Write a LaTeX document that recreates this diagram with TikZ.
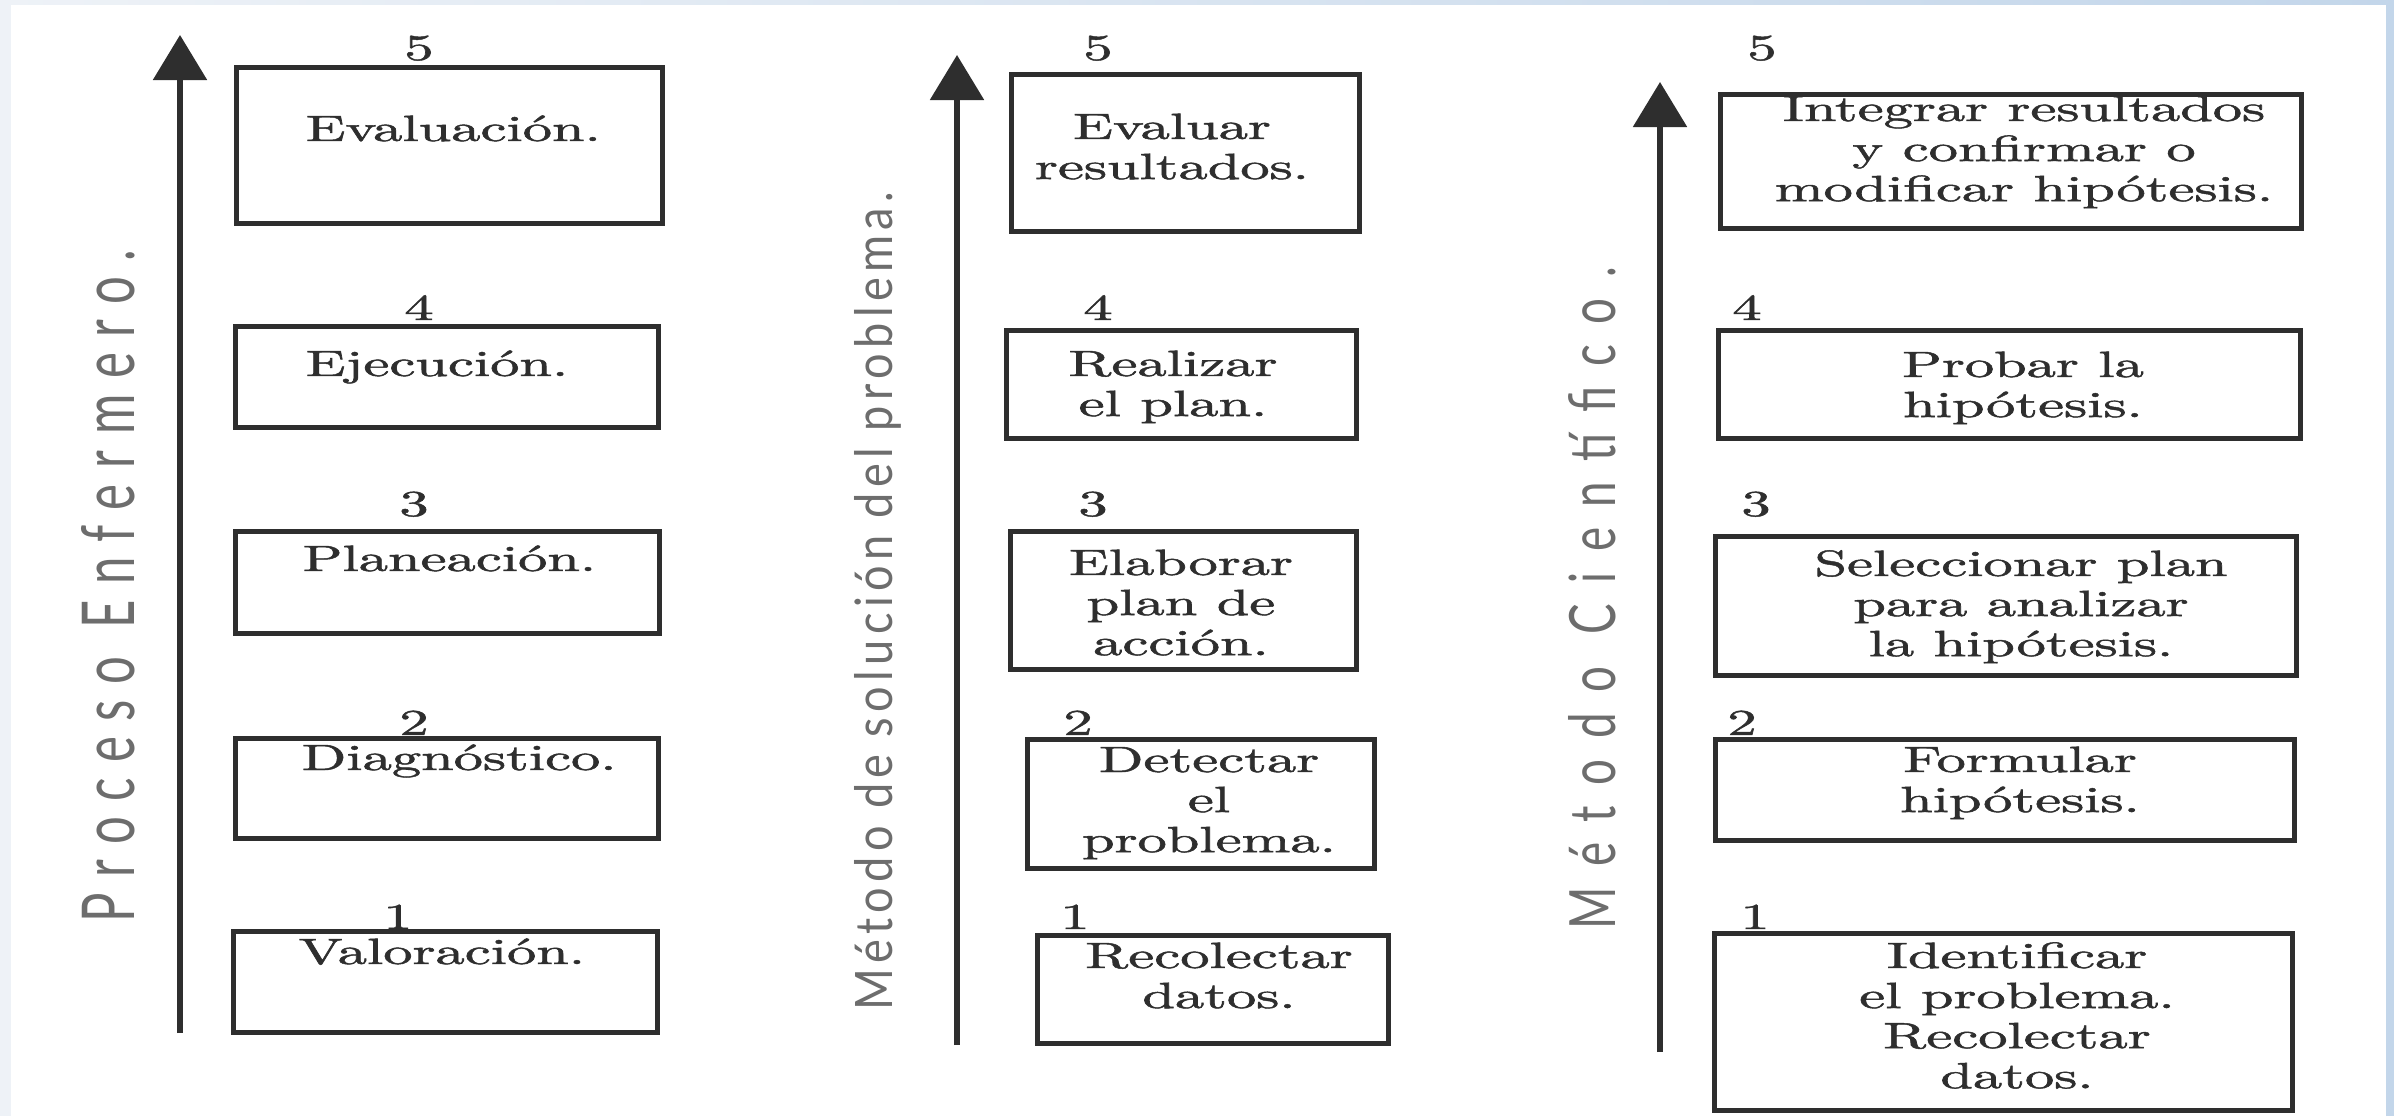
\documentclass[tikz,border=0pt]{standalone}
\usepackage{fontspec}
\usepackage{graphicx}
\usetikzlibrary{arrows.meta}

\newfontfamily\boxfont{Latin Modern Roman}[FakeBold=1.2]
\newfontfamily\sidefont{Lato}
\definecolor{inkc}{HTML}{2E2E2E}
\definecolor{frameL}{HTML}{EEF2F7}
\definecolor{frameR}{HTML}{C3D6EA}
\newcommand{\tline}[1]{\scalebox{1.6}[1]{\begin{tabular}[t]{@{}c@{}}#1\end{tabular}}}
\newcommand{\sidetext}[4]{\resizebox{#1}{#2}{\sidefont\addfontfeatures{LetterSpace=#3}#4}}

\begin{document}
\begin{tikzpicture}
[x=0.01cm,y=-0.01cm,
 stagebox/.style={draw=inkc,line width=0.05cm,inner sep=0pt},
 stagenum/.style={anchor=base,inner sep=0pt,text=inkc,font=\boxfont\fontsize{10.4}{11.4}\selectfont},
 stagetext/.style={stagenum},
 sidelabel/.style={rotate=90,inner sep=0pt,text=inkc!70},
 riser/.style={draw=inkc,line width=0.055cm,-{Triangle[length=0.45cm,width=0.53cm]}}]
\shade[left color=frameL,right color=frameR] (0,0) rectangle (2394,1116);
\fill[white] (11,5) rectangle (2386,1116);
\useasboundingbox (0,0) rectangle (2394,1116);

% Proceso Enfermero
\coordinate (pe-from) at (180,1033);
\coordinate (pe-to) at (180,35);
\draw[riser] (pe-from) -- (pe-to);
\node[sidelabel] (pe-lbl) at (108,586) {\sidetext{6.72cm}{0.53cm}{32}{Proceso Enfermero.}};
\node[stagebox,minimum width=4.25cm,minimum height=1.55cm] (pe5) at (449.5,145.5) {};
\node[stagebox,minimum width=4.22cm,minimum height=1.00cm] (pe4) at (447,377) {};
\node[stagebox,minimum width=4.23cm,minimum height=1.01cm] (pe3) at (447.5,582.5) {};
\node[stagebox,minimum width=4.22cm,minimum height=0.99cm] (pe2) at (447,788.5) {};
\node[stagebox,minimum width=4.23cm,minimum height=1.00cm] (pe1) at (445.5,982) {};
\node[stagenum] (pe5n) at (419,60) {\tline{5}};
\node[stagenum] (pe4n) at (419,320) {\tline{4}};
\node[stagenum] (pe3n) at (414,516) {\tline{3}};
\node[stagenum] (pe2n) at (414,735) {\tline{2}};
\node[stagenum] (pe1n) at (398,929) {\tline{1}};
\node[stagetext,anchor=base west] (pe5t) at (305,141) {\tline{Evaluación.}};
\node[stagetext,anchor=base west] (pe4t) at (305,376) {\tline{Ejecución.}};
\node[stagetext,anchor=base west] (pe3t) at (302,571) {\tline{Planeación.}};
\node[stagetext,anchor=base west] (pe2t) at (301,770) {\tline{Diagnóstico.}};
\node[stagetext,anchor=base west] (pe1t) at (298,964) {\tline{Valoración.}};

% Metodo de solucion del problema
\coordinate (ms-from) at (957,1045);
\coordinate (ms-to) at (957,55);
\draw[riser] (ms-from) -- (ms-to);
\node[sidelabel] (ms-lbl) at (878,601) {\sidetext{8.18cm}{0.38cm}{12}{Método de solución del problema.}};
\node[stagebox,minimum width=3.47cm,minimum height=1.56cm] (ms5) at (1185.5,153) {};
\node[stagebox,minimum width=3.49cm,minimum height=1.07cm] (ms4) at (1181.5,384.5) {};
\node[stagebox,minimum width=3.45cm,minimum height=1.37cm] (ms3) at (1183.5,600.5) {};
\node[stagebox,minimum width=3.46cm,minimum height=1.28cm] (ms2) at (1201,804) {};
\node[stagebox,minimum width=3.50cm,minimum height=1.07cm] (ms1) at (1213,989.5) {};
\node[stagenum] (ms5n) at (1098,60) {\tline{5}};
\node[stagenum] (ms4n) at (1098,320) {\tline{4}};
\node[stagenum] (ms3n) at (1093,516) {\tline{3}};
\node[stagenum] (ms2n) at (1078,735) {\tline{2}};
\node[stagenum] (ms1n) at (1075,929) {\tline{1}};
\node[stagetext] (ms5t) at (1172,139) {\tline{Evaluar\\resultados.}};
\node[stagetext] (ms4t) at (1173,376) {\tline{Realizar\\el plan.}};
\node[stagetext] (ms3t) at (1181,575) {\tline{Elaborar\\plan de\\acción.}};
\node[stagetext] (ms2t) at (1209,772) {\tline{Detectar\\el\\problema.}};
\node[stagetext] (ms1t) at (1219,968) {\tline{Recolectar\\datos.}};

% Metodo Cientifico
\coordinate (mc-from) at (1660,1052);
\coordinate (mc-to) at (1660,82);
\draw[riser] (mc-from) -- (mc-to);
\node[sidelabel] (mc-lbl) at (1592,598) {\sidetext{6.62cm}{0.47cm}{45}{Método Científico.}};
\node[stagebox,minimum width=5.80cm,minimum height=1.33cm] (mc5) at (2011,161.5) {};
\node[stagebox,minimum width=5.81cm,minimum height=1.07cm] (mc4) at (2009.5,384.5) {};
\node[stagebox,minimum width=5.80cm,minimum height=1.38cm] (mc3) at (2006,606) {};
\node[stagebox,minimum width=5.78cm,minimum height=1.00cm] (mc2) at (2005,790) {};
\node[stagebox,minimum width=5.77cm,minimum height=1.76cm] (mc1) at (2003.5,1022) {};
\node[stagenum] (mc5n) at (1762,60) {\tline{5}};
\node[stagenum] (mc4n) at (1747,320) {\tline{4}};
\node[stagenum] (mc3n) at (1756,516) {\tline{3}};
\node[stagenum] (mc2n) at (1742,735) {\tline{2}};
\node[stagenum] (mc1n) at (1755,929) {\tline{1}};
\node[stagetext] (mc5t) at (2024,121) {\tline{Integrar resultados\\y confirmar o\\modificar hipótesis.}};
\node[stagetext] (mc4t) at (2023,377) {\tline{Probar la\\hipótesis.}};
\node[stagetext] (mc3t) at (2021,576) {\tline{Seleccionar plan\\para analizar\\la hipótesis.}};
\node[stagetext] (mc2t) at (2020,772) {\tline{Formular\\hipótesis.}};
\node[stagetext] (mc1t) at (2017,968) {\tline{Identificar\\el problema.\\Recolectar\\datos.}};
\end{tikzpicture}
\end{document}
